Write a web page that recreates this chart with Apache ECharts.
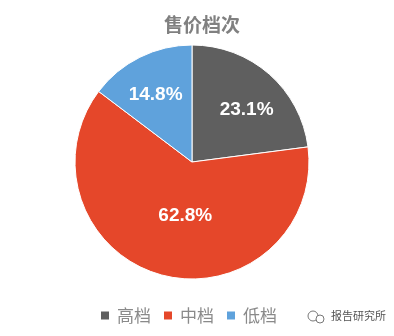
<!DOCTYPE html>
<html><head><meta charset="utf-8">
<script src="https://cdn.jsdelivr.net/npm/echarts@6/dist/echarts.min.js"></script>
<style>html,body{margin:0;padding:0;background:#fff}#c{width:394px;height:336px}</style>
</head><body><div id="c"></div>
<script>
const categories = ['高档', '中档', '低档'];
const values = [23.1, 62.8, 14.8];
const labels = ['23.1%', '62.8%', '14.8%'];
const colors = ['#5f5f5f', '#e5472a', '#5fa2dc'];
const labelOffsets = [[14, -6], [9, -6], [-9, -12]];

const chart = echarts.init(document.getElementById('c'));
chart.setOption({
  animation: false,
  title: {
    text: '售价档次', left: 197, top: 10, textAlign: 'center',
    textStyle: { fontSize: 19, fontWeight: 'bold', color: '#808080', fontFamily: 'Noto Sans CJK SC' }
  },
  legend: {
    data: categories, left: 94, top: 302, itemWidth: 10, itemHeight: 10, itemGap: 11,
    icon: 'rect',
    textStyle: { fontSize: 17, color: '#8a8a8a', fontFamily: 'Noto Sans CJK SC', padding: [0, 0, 0, 2] }
  },
  graphic: [
    { type: 'circle', shape: { cx: 313, cy: 316, r: 5 }, style: { fill: 'none', stroke: '#777', lineWidth: 1 } },
    { type: 'circle', shape: { cx: 320, cy: 319, r: 4 }, style: { fill: '#fff', stroke: '#777', lineWidth: 1 } },
    { type: 'text', left: 331, top: 310, style: { text: '报告研究所', font: '11px "Noto Sans CJK SC"', fill: '#555' } }
  ],
  series: [{
    type: 'pie',
    center: [192, 162],
    radius: [0, 117],
    startAngle: 90,
    clockwise: true,
    itemStyle: { borderColor: '#fff', borderWidth: 1 },
    label: {
      show: true, position: 'inside', color: '#fff', fontSize: 19, fontWeight: 'bold',
      fontFamily: 'Liberation Sans Narrow, Liberation Sans, sans-serif'
    },
    labelLine: { show: false },
    emphasis: { disabled: true },
    data: categories.map((c, i) => ({
      name: c, value: values[i],
      itemStyle: { color: colors[i] },
      label: { formatter: labels[i], offset: labelOffsets[i] }
    }))
  }]
});
</script></body></html>
